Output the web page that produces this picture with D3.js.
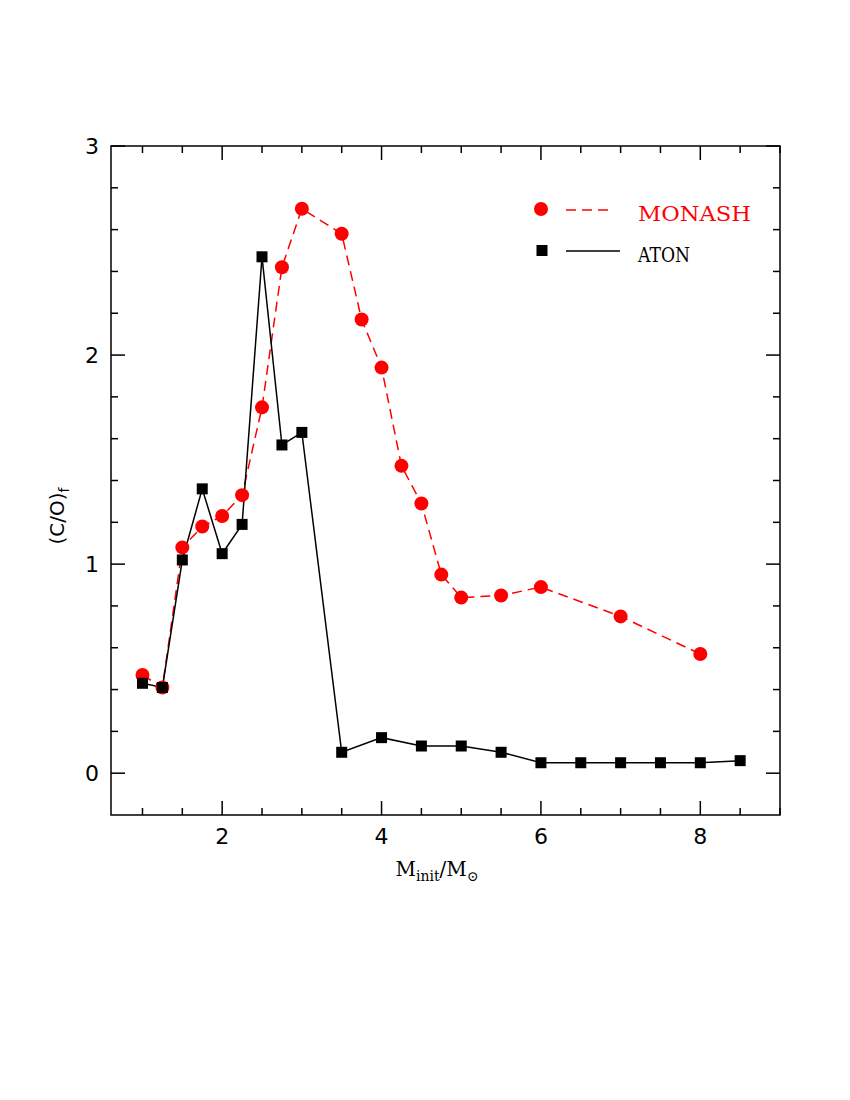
<!DOCTYPE html>
<html>
<head>
<meta charset="utf-8">
<script src="https://cdn.jsdelivr.net/npm/d3@7"></script>
<style>
  body { margin: 0; background: #fff; }
  svg { display: block; }
</style>
</head>
<body>
<svg width="850" height="1100"></svg>
<script>
const width = 850;
const height = 1100;

// Data
const monashMass = [1.0, 1.25, 1.5, 1.75, 2.0, 2.25, 2.5, 2.75, 3.0, 3.5, 3.75, 4.0, 4.25, 4.5, 4.75, 5.0, 5.5, 6.0, 7.0, 8.0];
const monashCO = [0.47, 0.41, 1.08, 1.18, 1.23, 1.33, 1.75, 2.42, 2.70, 2.58, 2.17, 1.94, 1.47, 1.29, 0.95, 0.84, 0.85, 0.89, 0.75, 0.57];

const atonMass = [1.0, 1.25, 1.5, 1.75, 2.0, 2.25, 2.5, 2.75, 3.0, 3.5, 4.0, 4.5, 5.0, 5.5, 6.0, 6.5, 7.0, 7.5, 8.0, 8.5];
const atonCO = [0.43, 0.41, 1.02, 1.36, 1.05, 1.19, 2.47, 1.57, 1.63, 0.10, 0.17, 0.13, 0.13, 0.10, 0.05, 0.05, 0.05, 0.05, 0.05, 0.06];

const xMajorTicks = [2, 4, 6, 8];
const yMajorTicks = [0, 1, 2, 3];

const monash = monashMass.map((m, i) => ({ x: m, y: monashCO[i] }));
const aton = atonMass.map((m, i) => ({ x: m, y: atonCO[i] }));

const margin = { left: 111, right: 70, top: 146, bottom: 285 };

const svg = d3.select("svg");

const x = d3.scaleLinear().domain([0.605, 9.0]).range([margin.left, width - margin.right]);
const y = d3.scaleLinear().domain([-0.2, 3.0]).range([height - margin.bottom, margin.top]);

const x0 = x.range()[0], x1 = x.range()[1];
const y0 = y.range()[0], y1 = y.range()[1];

// minor/major ticks on all four sides
const xMinor = d3.range(1, 9.01, 0.5).filter((v) => !xMajorTicks.includes(v));
const yMinor = d3.range(-0.2, 3.001, 0.2).map((v) => +v.toFixed(1)).filter((v) => !yMajorTicks.includes(v) && v > -0.2 && v < 3);

const ticks = svg.append("g").attr("stroke", "#000").attr("stroke-width", 1.5);

function xTicks(vals, len) {
  vals.forEach((v) => {
    ticks.append("line").attr("x1", x(v)).attr("x2", x(v)).attr("y1", y0).attr("y2", y0 - len);
    ticks.append("line").attr("x1", x(v)).attr("x2", x(v)).attr("y1", y1).attr("y2", y1 + len);
  });
}
function yTicks(vals, len) {
  vals.forEach((v) => {
    ticks.append("line").attr("x1", x0).attr("x2", x0 + len).attr("y1", y(v)).attr("y2", y(v));
    ticks.append("line").attr("x1", x1).attr("x2", x1 - len).attr("y1", y(v)).attr("y2", y(v));
  });
}
xTicks(xMajorTicks, 14);
xTicks(xMinor, 7);
yTicks(yMajorTicks, 14);
yTicks(yMinor, 7);

// frame
svg.append("rect")
  .attr("x", x0).attr("y", y1)
  .attr("width", x1 - x0).attr("height", y0 - y1)
  .attr("fill", "none").attr("stroke", "#000").attr("stroke-width", 1.5);

// tick labels
svg.append("g").selectAll("text")
  .data(xMajorTicks)
  .join("text")
  .attr("x", (d) => x(d))
  .attr("y", y0 + 29)
  .attr("text-anchor", "middle")
  .attr("font-family", "DejaVu Sans")
  .attr("font-size", 22)
  .text((d) => d);

svg.append("g").selectAll("text")
  .data(yMajorTicks)
  .join("text")
  .attr("x", x0 - 19)
  .attr("y", (d) => y(d) + 8)
  .attr("text-anchor", "middle")
  .attr("font-family", "DejaVu Sans")
  .attr("font-size", 22)
  .text((d) => d);

// axis titles
const xl = svg.append("text")
  .attr("x", 437)
  .attr("y", 876)
  .attr("text-anchor", "middle")
  .attr("font-family", "DejaVu Serif")
  .attr("font-size", 20);
xl.append("tspan").text("M");
xl.append("tspan").attr("font-size", 14).attr("dy", 5).text("init");
xl.append("tspan").attr("dy", -5).text("/M");
xl.append("tspan").attr("font-size", 14).attr("dy", 5).text("\u2299");

const yl = svg.append("text")
  .attr("transform", "translate(64,516) rotate(-90)")
  .attr("text-anchor", "middle")
  .attr("font-family", "DejaVu Sans")
  .attr("font-size", 20);
yl.append("tspan").text("(C/O)");
yl.append("tspan").attr("font-size", 14).attr("dy", 5).text("f");

// lines
const line = d3.line().x((d) => x(d.x)).y((d) => y(d.y));

svg.append("path")
  .datum(monash)
  .attr("d", line)
  .attr("fill", "none")
  .attr("stroke", "#ff0000")
  .attr("stroke-width", 1.5)
  .attr("stroke-dasharray", "10,6");

svg.append("path")
  .datum(aton)
  .attr("d", line)
  .attr("fill", "none")
  .attr("stroke", "#000")
  .attr("stroke-width", 1.5);

svg.append("g").selectAll("circle")
  .data(monash)
  .join("circle")
  .attr("cx", (d) => x(d.x))
  .attr("cy", (d) => y(d.y))
  .attr("r", 7)
  .attr("fill", "#ff0000");

svg.append("g").selectAll("rect")
  .data(aton)
  .join("rect")
  .attr("x", (d) => x(d.x) - 5.5)
  .attr("y", (d) => y(d.y) - 5.5)
  .attr("width", 11)
  .attr("height", 11)
  .attr("fill", "#000");

// legend
const legend = svg.append("g");
legend.append("circle").attr("cx", 541).attr("cy", 209).attr("r", 7).attr("fill", "#ff0000");
legend.append("line").attr("x1", 566).attr("x2", 614).attr("y1", 210).attr("y2", 210)
  .attr("stroke", "#ff0000").attr("stroke-width", 1.5).attr("stroke-dasharray", "10,6");
legend.append("text").attr("x", 638).attr("y", 221)
  .attr("font-family", "DejaVu Serif").attr("font-size", 21)
  .attr("textLength", 113).attr("lengthAdjust", "spacingAndGlyphs")
  .attr("fill", "#ff0000").text("MONASH");

legend.append("rect").attr("x", 536.5).attr("y", 245).attr("width", 11).attr("height", 11).attr("fill", "#000");
legend.append("line").attr("x1", 566).attr("x2", 620).attr("y1", 251).attr("y2", 251)
  .attr("stroke", "#000").attr("stroke-width", 1.5);
legend.append("text").attr("x", 638).attr("y", 262)
  .attr("font-family", "DejaVu Serif").attr("font-size", 21)
  .attr("textLength", 52).attr("lengthAdjust", "spacingAndGlyphs")
  .attr("fill", "#000").text("ATON");
</script>
</body>
</html>
